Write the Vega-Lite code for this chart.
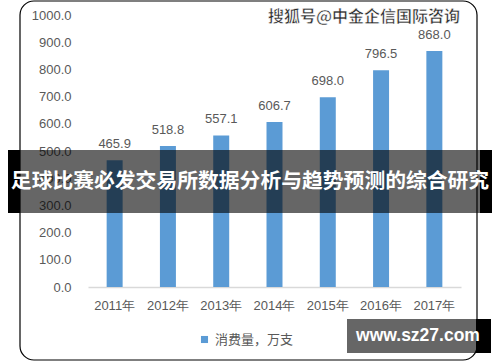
{
  "$schema": "https://vega.github.io/schema/vega-lite/v6.json",
  "width": 373,
  "height": 272,
  "autosize": {"type": "none"},
  "padding": {"left": 88, "top": 15, "right": 39, "bottom": 75},
  "background": "white",
  "config": {"view": {"stroke": null}, "font": "Liberation Sans"},
  "layer": [
    {
      "data": {"values": [{"k": 1}]},
      "mark": {"type": "rect", "fill": null, "stroke": "#000000", "strokeWidth": 1.2, "cornerRadius": 14, "clip": false},
      "encoding": {
        "x": {"value": -68}, "x2": {"value": 389},
        "y": {"value": -14}, "y2": {"value": 345}
      }
    },
    {
      "data": {"values": [
        {"year": "2011年", "value": 465.9, "series": "消费量，万支"},
        {"year": "2012年", "value": 518.8, "series": "消费量，万支"},
        {"year": "2013年", "value": 557.1, "series": "消费量，万支"},
        {"year": "2014年", "value": 606.7, "series": "消费量，万支"},
        {"year": "2015年", "value": 698.0, "series": "消费量，万支"},
        {"year": "2016年", "value": 796.5, "series": "消费量，万支"},
        {"year": "2017年", "value": 868.0, "series": "消费量，万支"}
      ]},
      "encoding": {
        "x": {
          "field": "year", "type": "nominal", "title": null,
          "scale": {"paddingInner": 0.7, "paddingOuter": 0.35},
          "axis": {"labelAngle": 0, "labelColor": "#595959", "labelFontSize": 13, "labelPadding": 12, "ticks": false, "domainColor": "#D9D9D9", "domainWidth": 1.5, "grid": false}
        },
        "y": {
          "field": "value", "type": "quantitative", "title": null,
          "scale": {"domain": [0, 1000], "nice": false},
          "axis": {"values": [0, 100, 200, 300, 400, 500, 600, 700, 800, 900, 1000], "format": ".1f", "labelColor": "#595959", "labelFontSize": 13, "labelPadding": 17, "ticks": false, "domain": false, "grid": false}
        }
      },
      "layer": [
        {
          "mark": {"type": "bar"},
          "encoding": {
            "color": {
              "field": "series", "type": "nominal",
              "scale": {"range": ["#5B9BD5"]},
              "legend": {"title": null, "orient": "none", "legendX": 110, "legendY": 318, "symbolType": "square", "symbolSize": 50, "labelFontSize": 13, "labelColor": "#595959", "labelFont": "Noto Sans CJK SC", "symbolStrokeWidth": 0}
            }
          }
        },
        {
          "mark": {"type": "text", "baseline": "bottom", "dy": -9, "fontSize": 13, "color": "#595959"},
          "encoding": {"text": {"field": "value", "type": "quantitative", "format": ".1f"}}
        }
      ]
    },
    {
      "data": {"values": [{"k": 1}]},
      "layer": [
        {
          "mark": {"type": "rect", "fill": "#000000", "opacity": 0.6, "clip": false},
          "encoding": {"x": {"value": -68}, "x2": {"value": 392}, "y": {"value": 135}, "y2": {"value": 198}}
        },
        {
          "mark": {"type": "rect", "fill": "#000000", "clip": false},
          "encoding": {"x": {"value": -80}, "x2": {"value": -68}, "y": {"value": 135}, "y2": {"value": 198}}
        },
        {
          "mark": {"type": "rect", "fill": "#000000", "clip": false},
          "encoding": {"x": {"value": 392}, "x2": {"value": 404}, "y": {"value": 135}, "y2": {"value": 198}}
        },
        {
          "mark": {"type": "rect", "fill": "#000000", "opacity": 0.6, "clip": false},
          "encoding": {"x": {"value": 259}, "x2": {"value": 388}, "y": {"value": 304}, "y2": {"value": 338}}
        },
        {
          "mark": {"type": "rect", "fill": "#000000", "clip": false},
          "encoding": {"x": {"value": 388}, "x2": {"value": 403}, "y": {"value": 304}, "y2": {"value": 338}}
        }
      ]
    },
    {
      "data": {"values": [{"label": "足球比赛必发交易所数据分析与趋势预测的综合研究"}]},
      "mark": {"type": "text", "font": "Noto Sans CJK SC", "fontWeight": "bold", "fontSize": 20.8, "color": "#FFFFFF", "align": "center", "baseline": "middle"},
      "encoding": {"text": {"field": "label"}, "x": {"value": 162}, "y": {"value": 167}}
    },
    {
      "data": {"values": [{"label": "搜狐号@中金企信国际咨询"}]},
      "mark": {"type": "text", "font": "Noto Sans CJK SC", "fontWeight": "bold", "fontSize": 16, "color": "#2A2A2A", "align": "center", "baseline": "middle", "stroke": "#FFFFFF", "strokeWidth": 0.5},
      "encoding": {"text": {"field": "label"}, "x": {"value": 276}, "y": {"value": 2}}
    },
    {
      "data": {"values": [{"label": "www.sz27.com"}]},
      "mark": {"type": "text", "font": "Liberation Sans", "fontWeight": "bold", "fontSize": 17.5, "color": "#FFFFFF", "align": "center", "baseline": "middle"},
      "encoding": {"text": {"field": "label"}, "x": {"value": 330}, "y": {"value": 321}}
    }
  ]
}
